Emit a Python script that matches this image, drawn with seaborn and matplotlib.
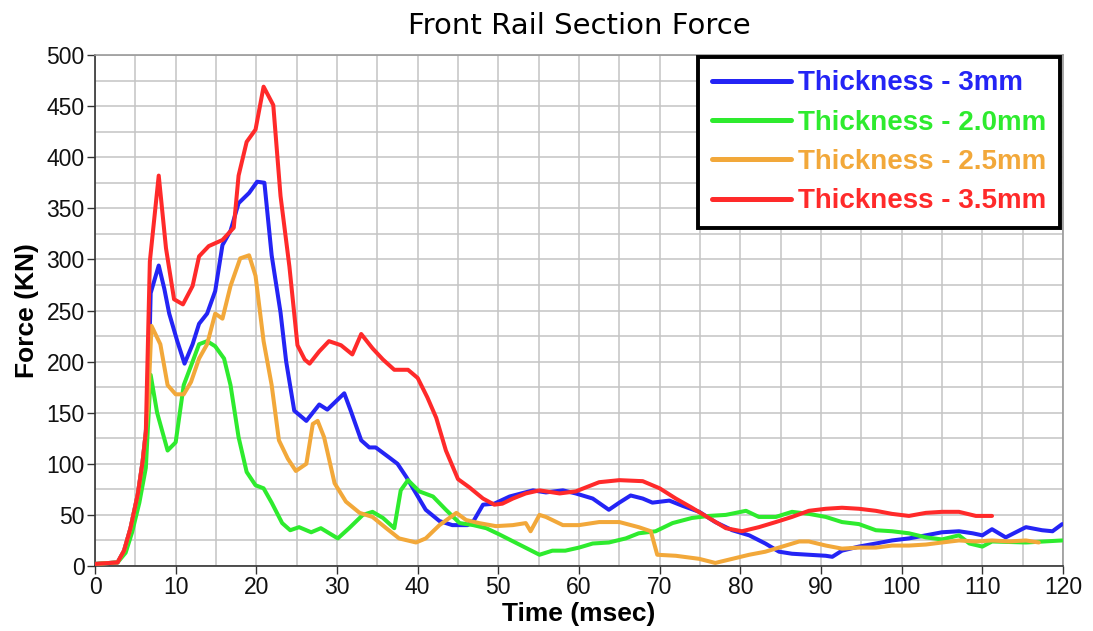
import matplotlib
matplotlib.use("Agg")
import matplotlib.pyplot as plt
import seaborn as sns
import pandas as pd
from matplotlib.ticker import MultipleLocator

# ---- data ----
labels = ["Thickness - 3mm", "Thickness - 2.0mm", "Thickness - 2.5mm", "Thickness - 3.5mm"]
colors = ["#2424F5", "#2EEB2E", "#F2A83A", "#FF2A2A"]

t_3mm = [0, 2.8, 3.6, 4.4, 5.3, 5.9, 6.3, 6.6, 6.9, 7.9, 8.6, 9.2, 10.2, 11.1, 12.1, 12.9, 13.9, 14.9,
         15.8, 16.8, 17.8, 19.1, 20.1, 21.0, 21.9, 23.0, 23.7, 24.7, 26.2, 27.8, 28.8, 30.9, 31.7, 33.0,
         34.0, 34.8, 36.5, 37.5, 38.6, 39.8, 41.0, 42.7, 44.3, 46.2, 47.0, 48.1, 49.5, 51.4, 54.3, 55.9,
         58.0, 59.6, 61.7, 63.7, 65.0, 66.4, 67.9, 69.1, 71.2, 72.8, 74.9, 76.9, 79.0, 81.1, 83.1, 84.8,
         86.4, 88.5, 90.6, 91.4, 92.6, 94.7, 96.8, 98.8, 100.9, 103.0, 105.0, 107.1, 108.8, 110.0, 111.2,
         112.9, 115.4, 117.4, 118.7, 119.9]
f_3mm = [2, 3.5, 15, 37, 70, 102, 131, 167, 267, 294, 271, 247, 220, 198, 217, 237, 247, 269,
         314, 328, 355, 365, 376, 375, 304, 248, 200, 152, 142, 158, 153, 169, 152, 123,
         116, 116, 106, 100, 87, 71, 55, 44, 40, 40, 45, 60, 61, 68, 74, 72,
         74, 71, 66, 55, 62, 69, 66, 62, 64, 59, 53, 43, 35, 30, 22, 14,
         12, 11, 10, 9, 15, 19, 22, 25, 27, 30, 33, 34, 32, 30, 36,
         28, 38, 35, 34, 41]

t_20mm = [0, 2.8, 3.8, 4.6, 5.5, 6.3, 6.9, 7.7, 9.0, 10.0, 11.0, 12.1, 12.9, 13.9, 14.9, 16.0, 16.8,
          17.8, 18.8, 19.9, 20.9, 21.9, 23.2, 24.2, 25.3, 26.8, 28.0, 30.1, 31.5, 33.2, 34.4, 35.7,
          37.1, 37.9, 38.8, 40.2, 41.9, 43.5, 45.2, 46.9, 48.5, 50.1, 52.6, 55.1, 56.7, 58.3, 60.0,
          61.7, 63.7, 65.8, 67.4, 69.5, 71.6, 74.0, 76.1, 78.2, 80.7, 82.3, 84.4, 86.4, 88.5, 90.6,
          92.6, 94.7, 96.8, 98.8, 100.9, 103.0, 105.0, 107.1, 108.4, 110.0, 111.2, 115.4, 119.9]
f_20mm = [2, 3.5, 13, 33, 62, 96, 187, 150, 113, 121, 177, 200, 217, 220, 215, 203, 177,
          126, 92, 79, 76, 62, 42, 35, 38, 33, 37, 27, 37, 50, 53, 47,
          37, 74, 84, 73, 68, 55, 42, 40, 37, 31, 21, 11, 15, 15, 18,
          22, 23, 27, 32, 34, 42, 47, 49, 50, 54, 48, 48, 53, 51, 48,
          43, 41, 35, 34, 32, 28, 26, 30, 22, 19, 24, 23, 25]

t_25mm = [0, 2.8, 3.6, 4.4, 5.3, 5.9, 6.3, 6.6, 7.0, 8.1, 9.0, 10.0, 11.0, 11.9, 12.9, 13.9, 14.9,
          15.8, 16.8, 18.0, 19.1, 19.9, 20.9, 21.9, 22.8, 23.9, 24.9, 26.2, 27.0, 27.6, 28.4, 29.7,
          31.1, 32.8, 34.4, 36.1, 37.7, 39.8, 41.0, 42.7, 44.8, 46.0, 47.6, 49.7, 51.8, 53.4, 54.0,
          55.1, 55.9, 58.0, 60.0, 62.5, 65.0, 67.4, 68.9, 69.7, 72.0, 74.9, 76.9, 79.0, 81.1, 83.1,
          85.2, 87.3, 88.5, 90.6, 92.6, 94.7, 96.8, 98.8, 100.9, 103.0, 105.0, 107.1, 109.2, 111.2,
          113.3, 115.4, 117.0]
f_25mm = [2, 3.5, 15, 37, 70, 102, 131, 160, 235, 217, 177, 168, 168, 180, 203, 217, 247,
          242, 274, 301, 304, 284, 220, 177, 123, 105, 93, 100, 139, 142, 126, 81,
          63, 52, 48, 37, 27, 23, 27, 40, 52, 45, 42, 39, 40, 42, 34,
          50, 48, 40, 40, 43, 43, 38, 34, 11, 10, 7, 3, 7, 11, 14,
          19, 24, 24, 20, 17, 18, 18, 20, 20, 21, 23, 25, 24, 25,
          24, 25, 23]

t_35mm = [0, 2.8, 3.6, 4.4, 5.3, 5.9, 6.3, 6.8, 7.9, 8.8, 9.8, 10.9, 12.1, 12.9, 14.1, 15.8, 17.2,
          17.8, 18.8, 19.9, 20.9, 22.1, 23.0, 24.1, 25.1, 26.0, 26.6, 27.8, 29.0, 30.5, 31.9, 33.0,
          34.4, 35.7, 37.1, 38.8, 40.0, 41.2, 42.3, 43.5, 45.0, 46.4, 48.1, 49.5, 50.5, 51.8, 53.4,
          55.1, 57.6, 59.6, 62.5, 65.0, 67.9, 70.0, 72.0, 74.0, 76.1, 78.2, 80.2, 82.3, 84.4, 86.4,
          88.5, 90.6, 92.6, 94.7, 96.8, 98.8, 100.9, 103.0, 105.0, 107.1, 109.2, 111.2]
f_35mm = [2, 3.5, 15, 37, 70, 102, 131, 298, 382, 311, 261, 256, 274, 303, 313, 319, 331,
          382, 415, 427, 469, 451, 362, 293, 216, 202, 198, 210, 220, 216, 207, 227,
          213, 202, 192, 192, 184, 165, 145, 113, 85, 77, 66, 60, 61, 66, 71,
          74, 71, 73, 82, 84, 83, 76, 66, 57, 47, 37, 34, 38, 43, 48,
          54, 56, 57, 56, 54, 51, 49, 52, 53, 53, 49, 49]

x_ticks = list(range(0, 121, 10))
y_ticks = list(range(0, 501, 50))

series_t = [t_3mm, t_20mm, t_25mm, t_35mm]
series_f = [f_3mm, f_20mm, f_25mm, f_35mm]
frames = []
for lab, tt, ff in zip(labels, series_t, series_f):
    d = pd.DataFrame({"Time": tt, "Force": ff})
    d["Series"] = lab
    frames.append(d)
df = pd.concat(frames, ignore_index=True)

# ---- plot ----
sns.set_theme(style="white")
plt.rcParams["font.family"] = ["Liberation Sans", "DejaVu Sans"]

fig = plt.figure(figsize=(10.93, 6.31), dpi=100)
ax = fig.add_axes([95 / 1093, 65 / 631, 968 / 1093, 511 / 631])

sns.lineplot(data=df, x="Time", y="Force", hue="Series", hue_order=labels,
             palette=dict(zip(labels, colors)), sort=False, estimator=None,
             linewidth=2.9, ax=ax, zorder=3)

ax.set_xlim(0, 120)
ax.set_ylim(0, 500)
ax.set_xticks(x_ticks)
ax.set_yticks(y_ticks)
ax.xaxis.set_minor_locator(MultipleLocator(5))
ax.yaxis.set_minor_locator(MultipleLocator(25))
ax.grid(which="both", color="#C4C4C4", linewidth=1.1, zorder=0)
ax.set_axisbelow(True)
ax.tick_params(axis="both", which="major", direction="out", length=6, width=1,
               color="#333333", labelsize=16.5, labelcolor="#111111", pad=1.5,
               bottom=True, left=True)
ax.tick_params(axis="both", which="minor", length=0)
for s in ["left", "bottom"]:
    ax.spines[s].set_color("#333333")
    ax.spines[s].set_linewidth(1.2)
for s in ["top", "right"]:
    ax.spines[s].set_color("#9A9A9A")
    ax.spines[s].set_linewidth(1.2)

ax.set_xlabel("Time (msec)", fontsize=19, fontweight="bold", color="black")
ax.set_ylabel("Force (KN)", fontsize=19, fontweight="bold", color="black")
ax.xaxis.set_label_coords(0.5, -0.070)
ax.yaxis.set_label_coords(-0.058, 0.5)
ax.set_title("Front Rail Section Force", fontsize=21, family="DejaVu Sans",
             color="black", pad=15)

leg = ax.legend(loc="upper right", bbox_to_anchor=(0.997, 0.997), borderaxespad=0,
                fancybox=False, framealpha=1, edgecolor="black",
                prop={"size": 20, "weight": "bold"}, handlelength=2.85,
                handletextpad=0.25, labelspacing=0.48, borderpad=0.5)
leg.get_frame().set_linewidth(2.8)
for txt, c in zip(leg.get_texts(), colors):
    txt.set_color(c)
for line in leg.get_lines():
    line.set_linewidth(3.6)

fig.savefig("out.png", dpi=100)
